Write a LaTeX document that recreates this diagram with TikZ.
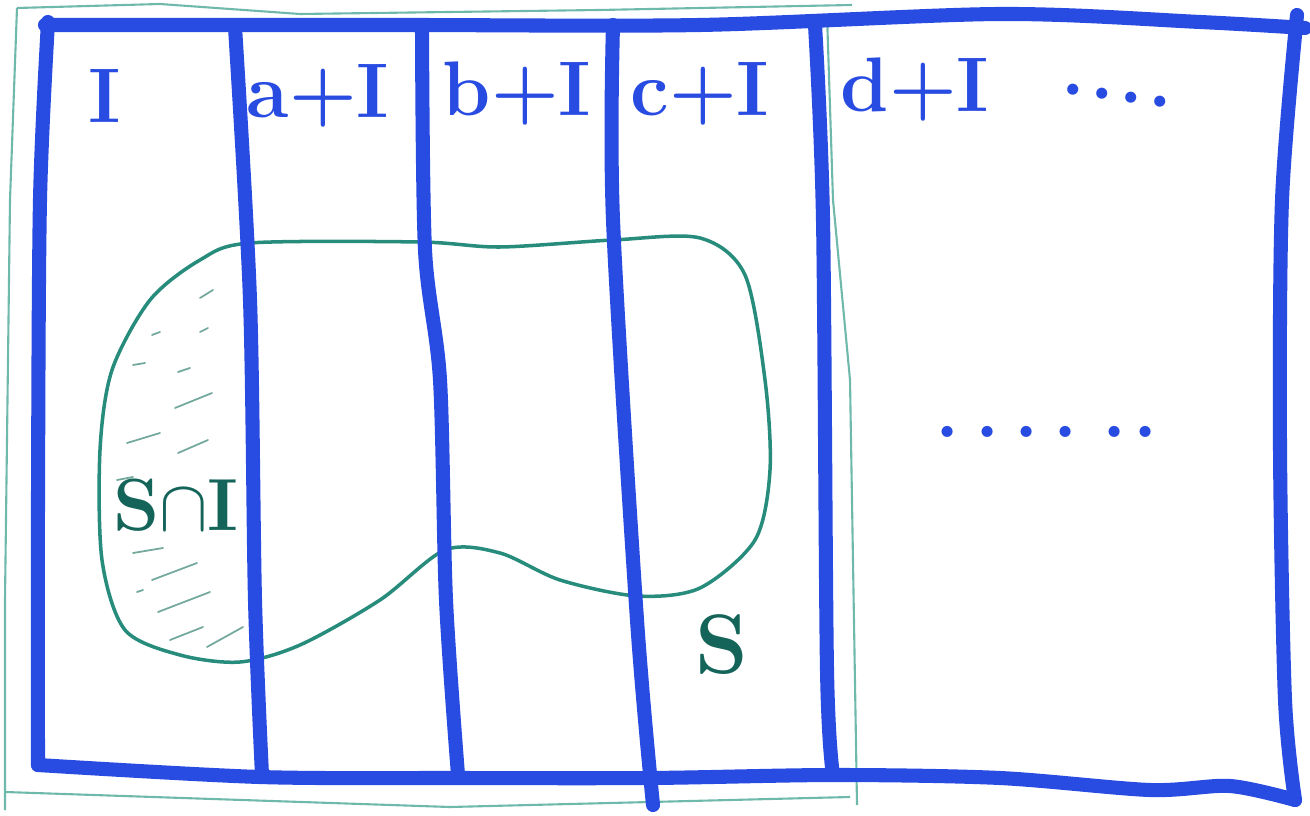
\documentclass[tikz,border=0pt]{standalone}
\usetikzlibrary{positioning}
\definecolor{marker}{RGB}{40,75,225}
\definecolor{pencilteal}{RGB}{110,185,170}
\definecolor{setteal}{RGB}{40,140,125}
\definecolor{darkteal}{RGB}{20,100,90}

\begin{document}
\begin{tikzpicture}[x=0.01cm,y=-0.01cm,
  frame/.style={line width=4pt,marker,line cap=round,line join=round},
  pencil/.style={line width=0.6pt,pencilteal},
  setline/.style={line width=1pt,setteal},
  hatch/.style={line width=0.5pt,pencilteal!70!gray,line cap=round},
  coset/.style={text=marker,font=\fontsize{22}{26}\selectfont\bfseries,inner sep=0pt},
  setlbl/.style={text=darkteal,font=\fontsize{21}{25}\selectfont\bfseries,inner sep=0pt}]
  \useasboundingbox (0,0) rectangle (1310,816);
  % thin pencil box around the first columns
  \draw[pencil] (17,8) -- (160,4) -- (300,14) -- (600,10) -- (852,5);
  \draw[pencil] (827,15) -- (833,200) -- (850,380) -- (857,805);
  \draw[pencil] (5,792) -- (450,807) -- (850,797);
  \draw[pencil] (17,8) -- (10,200) -- (5,600) -- (5,810);
  % the set S, shaded part S cap I
  \foreach \xa/\ya/\xb/\yb in {200/298/213/290, 152/335/160/332, 200/332/208/328,
      133/365/145/363, 178/372/190/368, 175/408/212/393, 127/443/160/433,
      178/453/208/440, 117/480/133/477, 133/553/163/548, 152/580/197/563,
      137/592/143/590, 158/612/210/592, 170/640/203/627, 207/647/243/627}
    \draw[hatch] (\xa,\ya) -- (\xb,\yb);
  \draw[setline] plot[smooth cycle] coordinates {(250,243) (420,242) (500,247)
      (613,240) (700,238) (745,275) (765,380) (770,470) (755,540) (700,588)
      (637,596) (560,580) (500,553) (445,550) (380,600) (300,645) (240,662)
      (180,655) (125,630) (102,560) (100,450) (112,370) (150,300) (200,260)};
  % cosets of I
  \draw[frame] plot[smooth] coordinates {(45,25) (400,25) (700,25) (1000,14) (1200,22) (1305,28)};
  \draw[frame] plot[smooth] coordinates {(1297,15) (1282,200) (1280,450) (1285,700) (1295,800)};
  \draw[frame] plot[smooth] coordinates {(38,765) (260,777) (460,778) (650,778) (835,775) (1000,778) (1150,790) (1230,786) (1295,800)};
  \draw[frame] plot[smooth] coordinates {(48,22) (40,200) (38,500) (38,765)};
  \draw[frame] plot[smooth] coordinates {(235,27) (250,300) (255,600) (262,775)};
  \draw[frame] plot[smooth] coordinates {(422,27) (425,250) (440,380) (446,600) (458,775)};
  \draw[frame] plot[smooth] coordinates {(613,25) (613,220) (637,620) (653,805)};
  \draw[frame] plot[smooth] coordinates {(815,25) (823,220) (827,670) (833,775)};
  % labels
  \node[coset] (lblI) at (105,96) {I};
  \node[coset] (lblA) at (318,96) {a+I};
  \node[coset] (lblB) at (517,94) {b+I};
  \node[coset] (lblC) at (700,94) {c+I};
  \node[coset] (lblD) at (915,90) {d+I};
  \node[coset,rotate=-8] (dotsTop) at (1117,96) {.\hspace{0.05cm}.\hspace{0.05cm}.\hspace{0.05cm}.};
  \node[coset] (dotsMid) at (1047,432) {.\hspace{0.15cm}.\hspace{0.15cm}.\hspace{0.15cm}.\hspace{0.25cm}.\hspace{0.07cm}.};
  \node[setlbl] (lblSI) at (176,505) {S$\cap$I};
  \node[setlbl,font=\fontsize{24}{28}\selectfont\bfseries] (lblS) at (722,645) {S};
\end{tikzpicture}
\end{document}
